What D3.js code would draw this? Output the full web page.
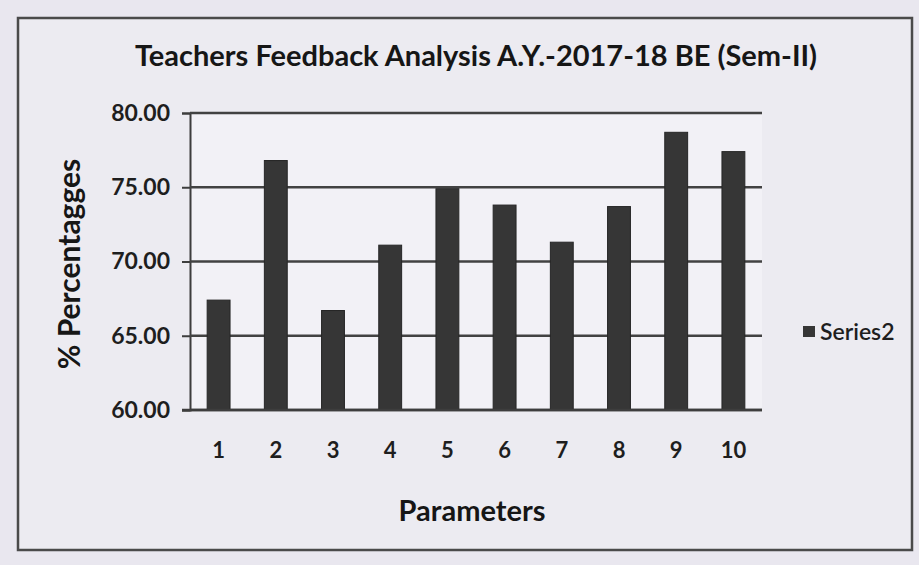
<!DOCTYPE html>
<html>
<head>
<meta charset="utf-8">
<script src="https://cdn.jsdelivr.net/npm/d3@7"></script>
<style>
  body { margin: 0; background: #e9e7ef; }
  svg { display: block; font-family: Lato, "Open Sans", sans-serif; }
</style>
</head>
<body>
<div id="chart"></div>
<script>
const categories = ["1", "2", "3", "4", "5", "6", "7", "8", "9", "10"]
const series2 = [67.4, 76.8, 66.7, 71.1, 74.9, 73.8, 71.3, 73.7, 78.7, 77.4]
const yTicks = [60, 65, 70, 75, 80]

const width = 919,
  height = 565
const marginTop = 113,
  marginRight = 157,
  marginBottom = 155,
  marginLeft = 190

const svg = d3
  .select("#chart")
  .append("svg")
  .attr("width", width)
  .attr("height", height)

svg.append("rect")
  .attr("width", width)
  .attr("height", height)
  .attr("fill", "#e9e7ef")

// chart border
svg.append("rect")
  .attr("x", 18)
  .attr("y", 18)
  .attr("width", 894)
  .attr("height", 532)
  .attr("fill", "#ecebf1")
  .attr("stroke", "#4a4a4a")
  .attr("stroke-width", 2.5)

const x = d3
  .scaleBand()
  .domain(categories)
  .range([marginLeft, width - marginRight])
  .paddingInner(0.6)
  .paddingOuter(0.3)

const y = d3
  .scaleLinear()
  .domain([60, 80])
  .range([height - marginBottom, marginTop])

// plot area
svg.append("rect")
  .attr("x", marginLeft)
  .attr("y", marginTop)
  .attr("width", width - marginRight - marginLeft)
  .attr("height", height - marginBottom - marginTop)
  .attr("fill", "#f2f1f6")

// y axis
const yAxis = svg
  .append("g")
  .attr("transform", `translate(${marginLeft},0)`)
  .call(
    d3.axisLeft(y)
      .tickValues(yTicks)
      .tickFormat(d3.format(".2f"))
      .tickSize(8)
      .tickPadding(12)
  )
yAxis.select(".domain").attr("stroke", "#3d3d3d").attr("stroke-width", 2)
yAxis.selectAll(".tick line").attr("stroke", "#3d3d3d").attr("stroke-width", 2)
yAxis.selectAll(".tick text")
  .attr("fill", "#1e1e1e")
  .attr("font-size", 23)
  .attr("font-weight", "bold")
  .attr("font-family", "Lato, sans-serif")

// gridlines
svg.append("g")
  .selectAll("line")
  .data(yTicks)
  .join("line")
  .attr("x1", marginLeft)
  .attr("x2", width - marginRight)
  .attr("y1", d => y(d))
  .attr("y2", d => y(d))
  .attr("stroke", "#424242")
  .attr("stroke-width", 2.5)

// bars
svg.append("g")
  .selectAll("rect")
  .data(series2)
  .join("rect")
  .attr("x", (d, i) => x(categories[i]))
  .attr("y", d => y(d))
  .attr("width", x.bandwidth())
  .attr("height", d => y(60) - y(d))
  .attr("fill", "#363636")
  .attr("stroke", "#262626")
  .attr("stroke-width", 1)

// x axis
const xAxis = svg
  .append("g")
  .attr("transform", `translate(0,${height - marginBottom})`)
  .call(d3.axisBottom(x).tickSize(0).tickPadding(32))
xAxis.select(".domain").attr("stroke", "#3d3d3d").attr("stroke-width", 2.5)
  .attr("d", `M${marginLeft - 8},0H${width - marginRight}`)
xAxis.selectAll(".tick text")
  .attr("fill", "#1e1e1e")
  .attr("font-size", 22)
  .attr("font-weight", "bold")
  .attr("font-family", "Lato, sans-serif")

// title
svg.append("text")
  .attr("x", 476)
  .attr("y", 66)
  .attr("text-anchor", "middle")
  .attr("font-size", 29)
  .attr("font-weight", "bold")
  .attr("fill", "#161616")
  .text("Teachers Feedback Analysis  A.Y.-2017-18 BE (Sem-II)")

// axis titles
svg.append("text")
  .attr("x", 472)
  .attr("y", 521)
  .attr("text-anchor", "middle")
  .attr("font-size", 29)
  .attr("font-weight", "bold")
  .attr("fill", "#161616")
  .text("Parameters")

svg.append("text")
  .attr("transform", `translate(80,264) rotate(-90)`)
  .attr("text-anchor", "middle")
  .attr("font-size", 30)
  .attr("font-weight", "bold")
  .attr("fill", "#161616")
  .text("% Percentagges")

// legend
const legend = svg.append("g").attr("transform", "translate(803,332)")
legend.append("rect")
  .attr("x", 0)
  .attr("y", -6)
  .attr("width", 12)
  .attr("height", 11)
  .attr("fill", "#363636")
legend.append("text")
  .attr("x", 17)
  .attr("y", 0)
  .attr("dy", "0.35em")
  .attr("font-size", 23)
  .attr("font-weight", 600)
  .attr("fill", "#1e1e1e")
  .text("Series2")
</script>
</body>
</html>
